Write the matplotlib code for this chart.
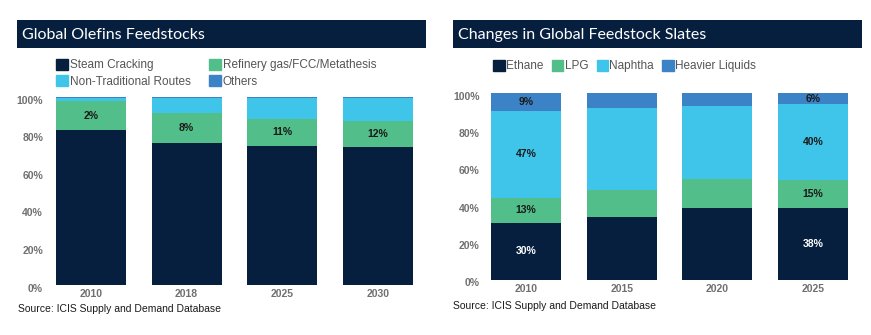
import matplotlib.pyplot as plt
import matplotlib.patches as mpatches
import matplotlib.transforms as mtransforms

NAVY = '#071f3e'
GREEN = '#52be8a'
CYAN = '#3fc5ea'
BLUE = '#3b82c6'
GREY = '#707070'

# left chart: Global Olefins Feedstocks
olefin_years = ['2010', '2018', '2025', '2030']
steam_cracking = [82.4, 75.5, 74.1, 73.4]
refinery_gas = [15.5, 16.0, 14.2, 13.7]
non_traditional = [1.6, 8.1, 11.3, 12.5]
others = [0.5, 0.4, 0.4, 0.4]
olefin_labels = ['2%', '8%', '11%', '12%']

# right chart: Changes in Global Feedstock Slates
slate_years = ['2010', '2015', '2020', '2025']
ethane = [30.5, 33.7, 38.5, 38.5]
lpg = [13.4, 14.4, 15.5, 15.0]
naphtha = [46.5, 43.9, 39.0, 40.6]
heavier = [9.6, 8.0, 7.0, 5.9]
ethane_labels = ['30%', '', '', '38%']
lpg_labels = ['13%', '', '', '15%']
naphtha_labels = ['47%', '', '', '40%']
heavier_labels = ['9%', '', '', '6%']

W, H = 871, 335
fig = plt.figure(figsize=(W / 100, H / 100), dpi=100)
plt.rcParams['font.family'] = ['Liberation Sans', 'DejaVu Sans']


def px_axes(x0, y0, x1, y1, **kw):
    # pixel box (top-left origin) -> figure axes
    return fig.add_axes([x0 / W, 1 - y1 / H, (x1 - x0) / W, (y1 - y0) / H], **kw)


def title_band(x0, x1, text):
    ax = px_axes(x0, 20, x1, 48)
    ax.set_facecolor(NAVY)
    ax.set_xticks([])
    ax.set_yticks([])
    for s in ax.spines.values():
        s.set_visible(False)
    ax.text(0.013, 0.47, text, color='white', fontsize=11.5, family='Lato',
            va='center', ha='left', transform=ax.transAxes)


def style(ax, cats, ypad):
    ax.set_xlim(-0.5, 3.5)
    ax.set_ylim(0, 100)
    ax.set_xticks(range(len(cats)))
    ax.set_xticklabels(cats, fontsize=7.5, fontweight='bold', color=GREY)
    ax.set_yticks([0, 20, 40, 60, 80, 100])
    ax.set_yticklabels([f'{v}%' for v in [0, 20, 40, 60, 80, 100]],
                       fontsize=7.5, fontweight='bold', color=GREY)
    ax.tick_params(length=0, pad=3)
    ax.tick_params(axis='y', pad=ypad)
    shift = mtransforms.ScaledTranslation(0, -2.5 / 100, fig.dpi_scale_trans)
    for lab in ax.get_yticklabels():
        lab.set_transform(lab.get_transform() + shift)
    for s in ax.spines.values():
        s.set_visible(False)


def stack(ax, series, colors, names):
    bottoms = [0] * len(series[0])
    out = []
    for vals, c, n in zip(series, colors, names):
        b = ax.bar(range(len(vals)), vals, 0.73, bottom=bottoms, color=c, label=n)
        out.append(b)
        bottoms = [bt + v for bt, v in zip(bottoms, vals)]
    return out


# ---- left
title_band(17, 426, 'Global Olefins Feedstocks')
ax1 = px_axes(43, 97, 426, 285)
bars = stack(ax1, [steam_cracking, refinery_gas, non_traditional, others],
             [NAVY, GREEN, CYAN, BLUE],
             ['Steam Cracking', 'Refinery gas/FCC/Metathesis',
              'Non-Traditional Routes', 'Others'])
ax1.bar_label(bars[1], labels=olefin_labels, label_type='center',
              fontsize=7.5, fontweight='bold', color='#1a1a1a')
style(ax1, olefin_years, 0)
fig.text(18 / W, 1 - 309 / H, 'Source: ICIS Supply and Demand Database',
         fontsize=7.5, color='#1a1a1a', va='center')
leg_handles = [mpatches.Patch(color=c) for c in [NAVY, CYAN, GREEN, BLUE]]
fig.legend(leg_handles,
           ['Steam Cracking', 'Non-Traditional Routes',
            'Refinery gas/FCC/Metathesis', 'Others'],
           ncol=2, loc='upper left', bbox_to_anchor=(56 / W, 1 - 59 / H),
           frameon=False, fontsize=8.5, labelcolor='#555555',
           handlelength=1.0, handleheight=1.0, handletextpad=0.2,
           columnspacing=1.5, labelspacing=0.35, borderaxespad=0, borderpad=0)

# ---- right
title_band(453, 862, 'Changes in Global Feedstock Slates')
ax2 = px_axes(478, 93, 861, 280)
bars = stack(ax2, [ethane, lpg, naphtha, heavier],
             [NAVY, GREEN, CYAN, BLUE],
             ['Ethane', 'LPG', 'Naphtha', 'Heavier Liquids'])
ax2.bar_label(bars[0], labels=ethane_labels, label_type='center',
              fontsize=7.5, fontweight='bold', color='white')
for b, labs in zip(bars[1:], [lpg_labels, naphtha_labels, heavier_labels]):
    ax2.bar_label(b, labels=labs, label_type='center',
                  fontsize=7.5, fontweight='bold', color='#1a1a1a')
style(ax2, slate_years, -1)
fig.text(453 / W, 1 - 306 / H, 'Source: ICIS Supply and Demand Database',
         fontsize=7.5, color='#1a1a1a', va='center')
leg_handles = [mpatches.Patch(color=c) for c in [NAVY, GREEN, CYAN, BLUE]]
fig.legend(leg_handles, ['Ethane', 'LPG', 'Naphtha', 'Heavier Liquids'],
           ncol=4, loc='upper left', bbox_to_anchor=(493 / W, 1 - 60 / H),
           frameon=False, fontsize=8.5, labelcolor='#555555',
           handlelength=1.0, handleheight=1.0, handletextpad=0.1,
           columnspacing=0.7, borderaxespad=0, borderpad=0)

fig.savefig('out.png', dpi=100)
